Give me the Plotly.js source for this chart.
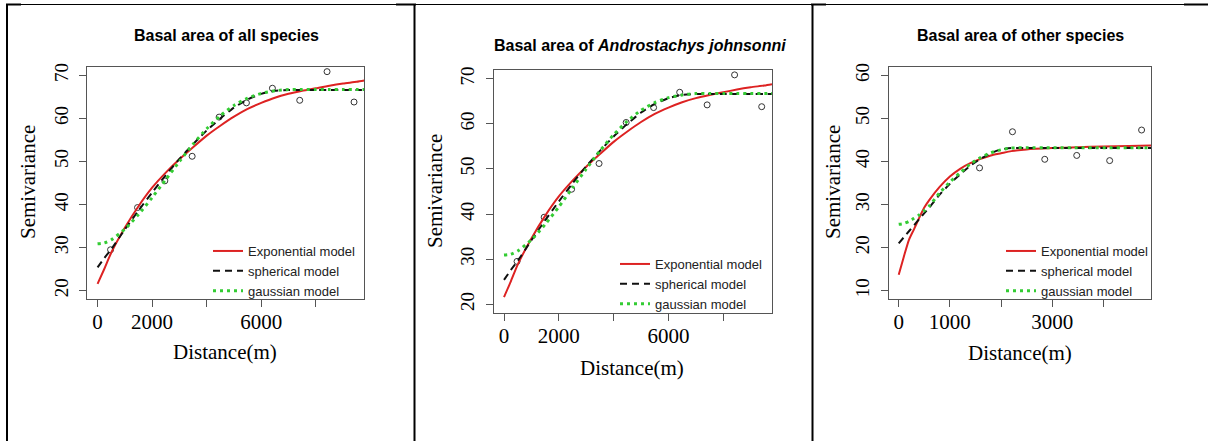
<!DOCTYPE html>
<html>
<head>
<meta charset="utf-8">
<script src="https://cdn.plot.ly/plotly-3.0.1.min.js"></script>
<style>html,body{margin:0;padding:0;background:#fff;} #chart{width:1208px;height:441px;}</style>
</head>
<body>
<div id="chart"></div>
<script>
// ---------- data ----------
// Panels 1 and 2 (same empirical semivariogram)
const distAll = [476, 1465, 2466, 3468, 4457, 5458, 6410, 7411, 8413, 9402];
const semivarAll = [29.5, 39.3, 45.5, 51.2, 60.3, 63.6, 67.0, 64.2, 70.85, 63.8];
const curveDistAll = [0, 250, 500, 1000, 1500, 2000, 2500, 3000, 3500, 4000, 4500, 5000, 5500, 6000, 6500, 7000, 7500, 8000, 8500, 9000, 9500, 9778];
const expAll = [21.6, 25.1, 28.8, 34.6, 39.6, 43.9, 47.4, 50.5, 53.3, 56.0, 58.3, 60.4, 62.2, 63.6, 64.8, 65.7, 66.4, 67.0, 67.6, 68.1, 68.5, 68.8];
const sphAll = [25.4, 27.6, 29.6, 34.2, 38.6, 42.8, 46.8, 50.6, 54.0, 57.2, 60.0, 62.5, 64.4, 65.7, 66.4, 66.6, 66.6, 66.6, 66.6, 66.6, 66.6, 66.6];
const gauAll = [30.9, 31.1, 31.8, 34.3, 37.7, 41.6, 45.8, 50.0, 54.0, 57.6, 60.6, 63.0, 64.7, 65.8, 66.4, 66.7, 66.7, 66.7, 66.7, 66.7, 66.7, 66.7];

// Panel 3 (other species)
const distOther = [1580, 2224, 2855, 3480, 4124, 4748];
const semivarOther = [38.5, 46.9, 40.5, 41.4, 40.2, 47.3];
const curveDistOther = [0, 100, 200, 300, 400, 500, 600, 800, 1000, 1200, 1400, 1600, 1800, 2000, 2200, 2500, 3000, 3500, 4000, 4500, 4938];
const expOther = [13.7, 17.9, 21.8, 24.3, 26.9, 29.3, 31.1, 34.1, 36.5, 38.3, 39.6, 40.6, 41.4, 41.9, 42.4, 42.8, 43.1, 43.3, 43.5, 43.6, 43.7];
const sphOther = [21.0, 22.4, 23.8, 25.2, 26.6, 28.0, 29.3, 32.3, 34.8, 37.0, 39.0, 40.6, 41.9, 42.8, 43.1, 43.1, 43.1, 43.1, 43.1, 43.1, 43.1];
const gauOther = [25.4, 25.6, 26.1, 26.8, 27.6, 28.6, 29.7, 32.7, 35.2, 37.4, 39.4, 40.9, 42.0, 42.7, 43.1, 43.2, 43.2, 43.2, 43.2, 43.2, 43.2];

const titles = ["Basal area of all species", "Basal area of <i>Androstachys johnsonni</i>", "Basal area of other species"];
const seriesNames = ["Exponential model", "spherical model", "gaussian model"];
const xTickValsAll = [0, 2000, 4000, 6000, 8000];
const xTickTextAll = ["0", "2000", "", "6000", ""];
const xTickValsOther = [0, 1000, 2000, 3000, 4000];
const xTickTextOther = ["0", "1000", "", "3000", ""];
const yTickValsAll = [20, 30, 40, 50, 60, 70];
const yTickValsOther = [10, 20, 30, 40, 50, 60];
const yLabel = "Semivariance";
const xLabel = "Distance(m)";

// ---------- helpers ----------
const W = 1208, H = 441;
const px = v => v / W;
const py = v => 1 - v / H;

const RED = '#dd2222', BLACK = '#111111', GREEN = '#33cc33';

function panelTraces(i, dPts, sPts, cx, e, s, g) {
  const xa = i === 1 ? 'x' : 'x' + i;
  const ya = i === 1 ? 'y' : 'y' + i;
  const lg = i === 1 ? 'legend' : 'legend' + i;
  return [
    {x: dPts, y: sPts, xaxis: xa, yaxis: ya, mode: 'markers', type: 'scatter', showlegend: false,
     marker: {symbol: 'circle-open', size: 6, color: '#333', line: {width: 1, color: '#333'}}, hoverinfo: 'x+y'},
    {x: cx, y: e, xaxis: xa, yaxis: ya, mode: 'lines', type: 'scatter', name: seriesNames[0], legend: lg,
     line: {color: RED, width: 2, shape: 'spline', smoothing: 0.6}},
    {x: cx, y: s, xaxis: xa, yaxis: ya, mode: 'lines', type: 'scatter', name: seriesNames[1], legend: lg,
     line: {color: BLACK, width: 2, dash: '7px,5px', shape: 'spline', smoothing: 0.5}},
    {x: cx, y: g, xaxis: xa, yaxis: ya, mode: 'lines', type: 'scatter', name: seriesNames[2], legend: lg,
     line: {color: GREEN, width: 3, dash: '3px,4px', shape: 'spline', smoothing: 0.6}}
  ];
}

const data = [].concat(
  panelTraces(1, distAll, semivarAll, curveDistAll, expAll, sphAll, gauAll),
  panelTraces(2, distAll, semivarAll, curveDistAll, expAll, sphAll, gauAll),
  panelTraces(3, distOther, semivarOther, curveDistOther, expOther, sphOther, gauOther)
);

const serif = 'Liberation Serif, Times New Roman, serif';
const sans = 'Liberation Sans, Arial, sans-serif';

function xAxis(dom, range, tv, tt, anchor) {
  return {domain: dom, range: range, anchor: anchor, tickmode: 'array', tickvals: tv, ticktext: tt,
    ticks: 'outside', ticklen: 7, tickcolor: '#555', tickwidth: 1, showline: true, mirror: true,
    linecolor: '#555', linewidth: 1, showgrid: false, zeroline: false,
    tickfont: {family: serif, size: 21, color: '#000'}, ticklabelstandoff: -4, fixedrange: true};
}
function yAxis(dom, range, tv, anchor) {
  return {domain: dom, range: range, anchor: anchor, tickmode: 'array', tickvals: tv,
    ticks: 'outside', ticklen: 7, tickcolor: '#555', tickwidth: 1, showline: true, mirror: true,
    linecolor: '#555', linewidth: 1, showgrid: false, zeroline: false, tickangle: -90,
    tickfont: {family: serif, size: 19, color: '#000'}, ticklabelstandoff: 4, fixedrange: true};
}

const legendBase = {xanchor: 'left', yanchor: 'top', bgcolor: 'rgba(0,0,0,0)', borderwidth: 0,
  font: {family: sans, size: 13, color: '#222'}, itemwidth: 30, tracegroupgap: 0};

function ann(text, x, y, opts) {
  return Object.assign({text: text, x: px(x), y: py(y), xref: 'paper', yref: 'paper',
    showarrow: false, xanchor: 'center', yanchor: 'middle'}, opts || {});
}

const titleFont = {family: sans, size: 16, color: '#000'};
const labelFont = {family: serif, size: 21, color: '#000'};
const annotations = [
  ann('<b>' + titles[0] + '</b>', 226, 36, {font: titleFont}),
  ann('<b>' + titles[1] + '</b>', 640, 45, {font: titleFont}),
  ann('<b>' + titles[2] + '</b>', 1020, 36, {font: titleFont}),
  ann(yLabel, 28, 182, {textangle: -90, font: labelFont}),
  ann(yLabel, 435, 191, {textangle: -90, font: labelFont}),
  ann(yLabel, 833, 182, {textangle: -90, font: labelFont}),
  ann(xLabel, 225, 352, {font: labelFont}),
  ann(xLabel, 632, 368, {font: labelFont}),
  ann(xLabel, 1020, 353, {font: labelFont})
];

function hline(x0, x1, y, w) {
  return {type: 'line', xref: 'paper', yref: 'paper', x0: px(x0), x1: px(x1), y0: py(y), y1: py(y),
    line: {color: '#000', width: w}};
}
function vline(x, y0, y1, w) {
  return {type: 'line', xref: 'paper', yref: 'paper', x0: px(x), x1: px(x), y0: py(y0), y1: py(y1),
    line: {color: '#000', width: w}};
}
const shapes = [
  hline(7, 1208, 4.5, 1),
  hline(6, 21, 4.5, 2), hline(396, 416, 4.5, 2), hline(811, 826, 4.5, 2), hline(1184, 1208, 4.5, 2),
  vline(7, 4, 441, 2), vline(414.5, 4, 441, 2), vline(812.5, 4, 441, 2)
];

const layout = {
  width: W, height: H, margin: {l: 0, r: 0, t: 0, b: 0},
  paper_bgcolor: '#fff', plot_bgcolor: '#fff', showlegend: true,
  xaxis: xAxis([px(87.3), px(364.3)], [-376, 9778], xTickValsAll, xTickTextAll, 'y'),
  yaxis: yAxis([py(299.3), py(66.7)], [18, 72], yTickValsAll, 'x'),
  xaxis2: xAxis([px(493.7), px(772)], [-376, 9778], xTickValsAll, xTickTextAll, 'y2'),
  yaxis2: yAxis([py(313.3), py(69.7)], [18, 72], yTickValsAll, 'x2'),
  xaxis3: xAxis([px(889), px(1151.3)], [-190, 4938], xTickValsOther, xTickTextOther, 'y3'),
  yaxis3: yAxis([py(299.3), py(66.7)], [8, 62], yTickValsOther, 'x3'),
  legend: Object.assign({}, legendBase, {x: px(208), y: py(236)}),
  legend2: Object.assign({}, legendBase, {x: px(615), y: py(249)}),
  legend3: Object.assign({}, legendBase, {x: px(1001), y: py(236)}),
  annotations: annotations,
  shapes: shapes
};

Plotly.newPlot('chart', data, layout, {staticPlot: true, displayModeBar: false});
</script>
</body>
</html>
